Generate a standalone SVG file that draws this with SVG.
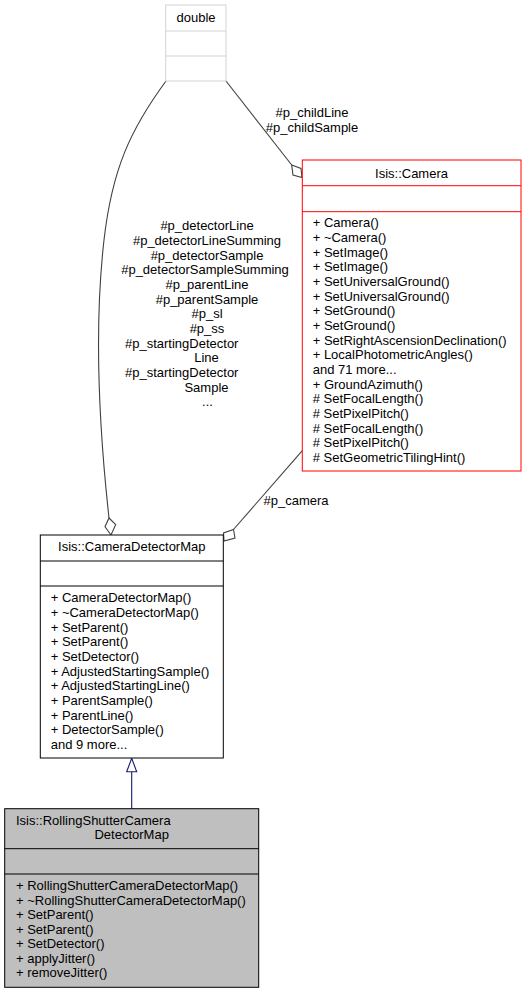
<svg xmlns="http://www.w3.org/2000/svg" width="527" height="993" viewBox="0 0 527 993">
<style>
text{font-family:"Liberation Sans",Arial,Helvetica,sans-serif;font-size:13px;fill:#000}
.c{text-anchor:middle}
.edge{fill:none;stroke:#404040;stroke-width:1.1}
.dia{fill:#fff;stroke:#404040;stroke-width:1.1}
</style>
<rect width="527" height="993" fill="#fff"/>
<g id="connectors">
<path class="edge" d="M166,81 C130,130 112,170 104,240 C96,310 96,400 109,518"/>
<polygon class="dia" points="109,518 115.7,524.7 111,535 105,526.7"/>
<path class="edge" d="M226,81 L291.7,165"/>
<polygon class="dia" points="291.7,165 301,168.5 302,177.5 293,175"/>
<path class="edge" d="M302.3,450.7 L233.5,529.5"/>
<polygon class="dia" points="233.5,529.5 235,538 224,541 223.5,533"/>
<path d="M131.7,771.7 L131.7,808.7" fill="none" stroke="#191970" stroke-width="1.1"/>
<polygon points="131.7,758.3 136.7,771.7 126.7,771.7" fill="#fff" stroke="#191970" stroke-width="1.1"/>
<text class="c" x="312" y="117">#p_childLine</text>
<text class="c" x="312" y="131.5">#p_childSample</text>
<text x="263.5" y="505">#p_camera</text>
<text class="c" x="207" y="230.2">#p_detectorLine</text>
<text class="c" x="207" y="244.9">#p_detectorLineSumming</text>
<text class="c" x="207" y="259.5">#p_detectorSample</text>
<text class="c" x="205" y="274.2">#p_detectorSampleSumming</text>
<text class="c" x="207" y="288.9">#p_parentLine</text>
<text class="c" x="207" y="303.5">#p_parentSample</text>
<text class="c" x="207" y="318.2">#p_sl</text>
<text class="c" x="207" y="332.9">#p_ss</text>
<text x="125" y="347.5">#p_startingDetector</text>
<text class="c" x="206.5" y="362.2">Line</text>
<text x="125" y="376.9">#p_startingDetector</text>
<text class="c" x="206.5" y="391.5">Sample</text>
<text class="c" x="207.5" y="406.2">...</text>
</g>
<g id="node-double">
<rect x="165.7" y="5" width="60.3" height="76" fill="#fff" stroke="#d3d3d3" stroke-width="1"/>
<line x1="165.7" y1="31" x2="226" y2="31" stroke="#d3d3d3"/>
<line x1="165.7" y1="56" x2="226" y2="56" stroke="#d3d3d3"/>
<text class="c" x="196" y="21.5">double</text>
</g>
<g id="node-camera">
<rect x="302.3" y="160" width="218.7" height="311" fill="#fff" stroke="#ff0000" stroke-width="1"/>
<line x1="302.3" y1="185.7" x2="521" y2="185.7" stroke="#ff0000"/>
<line x1="302.3" y1="211.7" x2="521" y2="211.7" stroke="#ff0000"/>
<text class="c" x="411.5" y="177.8">Isis::Camera</text>
<text x="312.7" y="227.2">+ Camera()</text>
<text x="312.7" y="241.9">+ ~Camera()</text>
<text x="312.7" y="256.5">+ SetImage()</text>
<text x="312.7" y="271.2">+ SetImage()</text>
<text x="312.7" y="285.9">+ SetUniversalGround()</text>
<text x="312.7" y="300.5">+ SetUniversalGround()</text>
<text x="312.7" y="315.2">+ SetGround()</text>
<text x="312.7" y="329.9">+ SetGround()</text>
<text x="312.7" y="344.5">+ SetRightAscensionDeclination()</text>
<text x="312.7" y="359.2">+ LocalPhotometricAngles()</text>
<text x="312.7" y="373.9">and 71 more...</text>
<text x="312.7" y="388.5">+ GroundAzimuth()</text>
<text x="312.7" y="403.2"># SetFocalLength()</text>
<text x="312.7" y="417.9"># SetPixelPitch()</text>
<text x="312.7" y="432.5"># SetFocalLength()</text>
<text x="312.7" y="447.2"># SetPixelPitch()</text>
<text x="312.7" y="461.9"># SetGeometricTilingHint()</text>
</g>
<g id="node-cameradetectormap">
<rect x="40.3" y="535" width="183" height="223" fill="#fff" stroke="#000" stroke-width="1"/>
<line x1="40.3" y1="561" x2="223.3" y2="561" stroke="#000"/>
<line x1="40.3" y1="586" x2="223.3" y2="586" stroke="#000"/>
<text class="c" x="131.8" y="551.2">Isis::CameraDetectorMap</text>
<text x="50.7" y="602.2">+ CameraDetectorMap()</text>
<text x="50.7" y="616.9">+ ~CameraDetectorMap()</text>
<text x="50.7" y="631.5">+ SetParent()</text>
<text x="50.7" y="646.2">+ SetParent()</text>
<text x="50.7" y="660.9">+ SetDetector()</text>
<text x="50.7" y="675.5">+ AdjustedStartingSample()</text>
<text x="50.7" y="690.2">+ AdjustedStartingLine()</text>
<text x="50.7" y="704.9">+ ParentSample()</text>
<text x="50.7" y="719.5">+ ParentLine()</text>
<text x="50.7" y="734.2">+ DetectorSample()</text>
<text x="50.7" y="748.9">and 9 more...</text>
</g>
<g id="node-rollingshutter">
<rect x="4.7" y="808.7" width="254" height="178.6" fill="#bfbfbf" stroke="#000" stroke-width="1"/>
<line x1="4.7" y1="848.7" x2="258.7" y2="848.7" stroke="#000"/>
<line x1="4.7" y1="874" x2="258.7" y2="874" stroke="#000"/>
<text x="16" y="825.2">Isis::RollingShutterCamera</text>
<text class="c" x="131.7" y="838.8">DetectorMap</text>
<text x="16" y="890.2">+ RollingShutterCameraDetectorMap()</text>
<text x="16" y="904.7">+ ~RollingShutterCameraDetectorMap()</text>
<text x="16" y="919.2">+ SetParent()</text>
<text x="16" y="933.7">+ SetParent()</text>
<text x="16" y="948.2">+ SetDetector()</text>
<text x="16" y="962.7">+ applyJitter()</text>
<text x="16" y="977.2">+ removeJitter()</text>
</g>
</svg>
